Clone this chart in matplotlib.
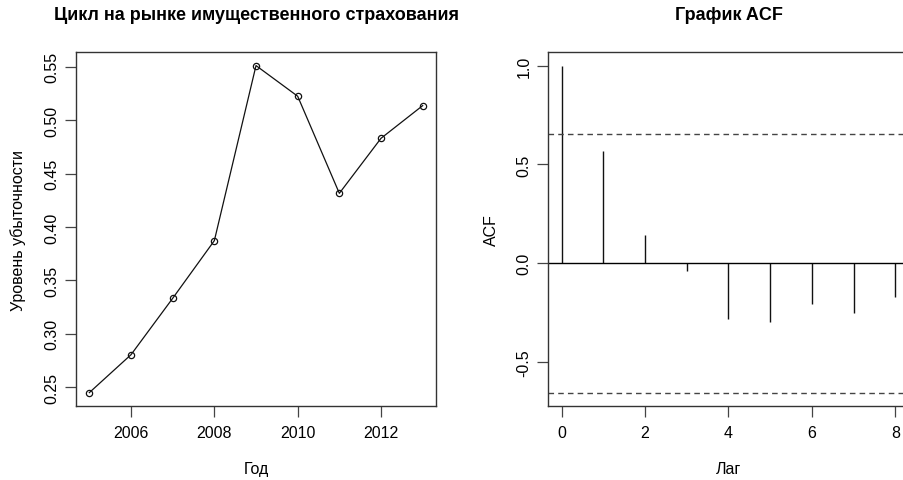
import matplotlib.pyplot as plt
import numpy as np

plt.rcParams['font.family'] = ['Liberation Sans', 'DejaVu Sans']

# loss ratio by year
years = [2005, 2006, 2007, 2008, 2009, 2010, 2011, 2012, 2013]
loss_ratio = [0.245, 0.2805, 0.3333, 0.3873, 0.5512, 0.5225, 0.4316, 0.4831, 0.5137]

# autocorrelation of the series
lags = [0, 1, 2, 3, 4, 5, 6, 7, 8]
acf_vals = [1.0, 0.570, 0.144, -0.039, -0.281, -0.296, -0.205, -0.252, -0.171]
n_obs = len(loss_ratio)
clim = 1.96 / np.sqrt(n_obs)


def r_limits(vals):
    lo, hi = min(vals), max(vals)
    pad = 0.04 * (hi - lo)
    return lo - pad, hi + pad


def r_style(ax):
    for s in ax.spines.values():
        s.set_color('#333333')
        s.set_linewidth(1.0)
    ax.tick_params(length=8, width=0.9, color='#444444', labelsize=11.5, pad=6)
    ax.tick_params(axis='y', labelrotation=90, pad=4)
    for lab in ax.get_yticklabels():
        lab.set_va('center')


fig = plt.figure(figsize=(9.04, 4.81), dpi=100)

ax1 = fig.add_axes([0.0841, 0.1545, 0.3982, 0.7343])
ax1.plot(years, loss_ratio, '-', color='#111111', lw=0.9,
         marker='o', markersize=4.5, markerfacecolor='none',
         markeredgecolor='#111111', markeredgewidth=0.9)
ax1.set_xlim(r_limits(years))
ax1.set_ylim(r_limits(loss_ratio))
ax1.set_xticks([2006, 2008, 2010, 2012])
ax1.set_yticks([0.25, 0.30, 0.35, 0.40, 0.45, 0.50, 0.55])
ax1.set_yticklabels(['0.25', '0.30', '0.35', '0.40', '0.45', '0.50', '0.55'])
r_style(ax1)
ax1.set_title('Цикл на рынке имущественного страхования', fontsize=13,
              fontweight='bold', pad=24)
ax1.set_xlabel('Год', fontsize=11.5, labelpad=15)
ax1.set_ylabel('Уровень убыточности', fontsize=11.5, labelpad=13)

ax2 = fig.add_axes([0.6065, 0.1545, 0.3986, 0.7343])
ax2.vlines(lags, 0, acf_vals, color='#111111', lw=1.0)
ax2.axhline(0, color='black', lw=1.0)
ax2.axhline(clim, color='#444444', lw=1.0, ls=(0, (4, 3)))
ax2.axhline(-clim, color='#444444', lw=1.0, ls=(0, (4, 3)))
ax2.set_xlim(r_limits(lags))
ax2.set_ylim(r_limits(acf_vals + [clim, -clim]))
ax2.set_xticks([0, 2, 4, 6, 8])
ax2.set_yticks([-0.5, 0.0, 0.5, 1.0])
ax2.set_yticklabels(['-0.5', '0.0', '0.5', '1.0'])
r_style(ax2)
ax2.set_title('График ACF', fontsize=13, fontweight='bold', pad=24)
ax2.set_xlabel('Лаг', fontsize=11.5, labelpad=15)
ax2.set_ylabel('ACF', fontsize=11.5, labelpad=13)

fig.savefig('out.png', dpi=100)
